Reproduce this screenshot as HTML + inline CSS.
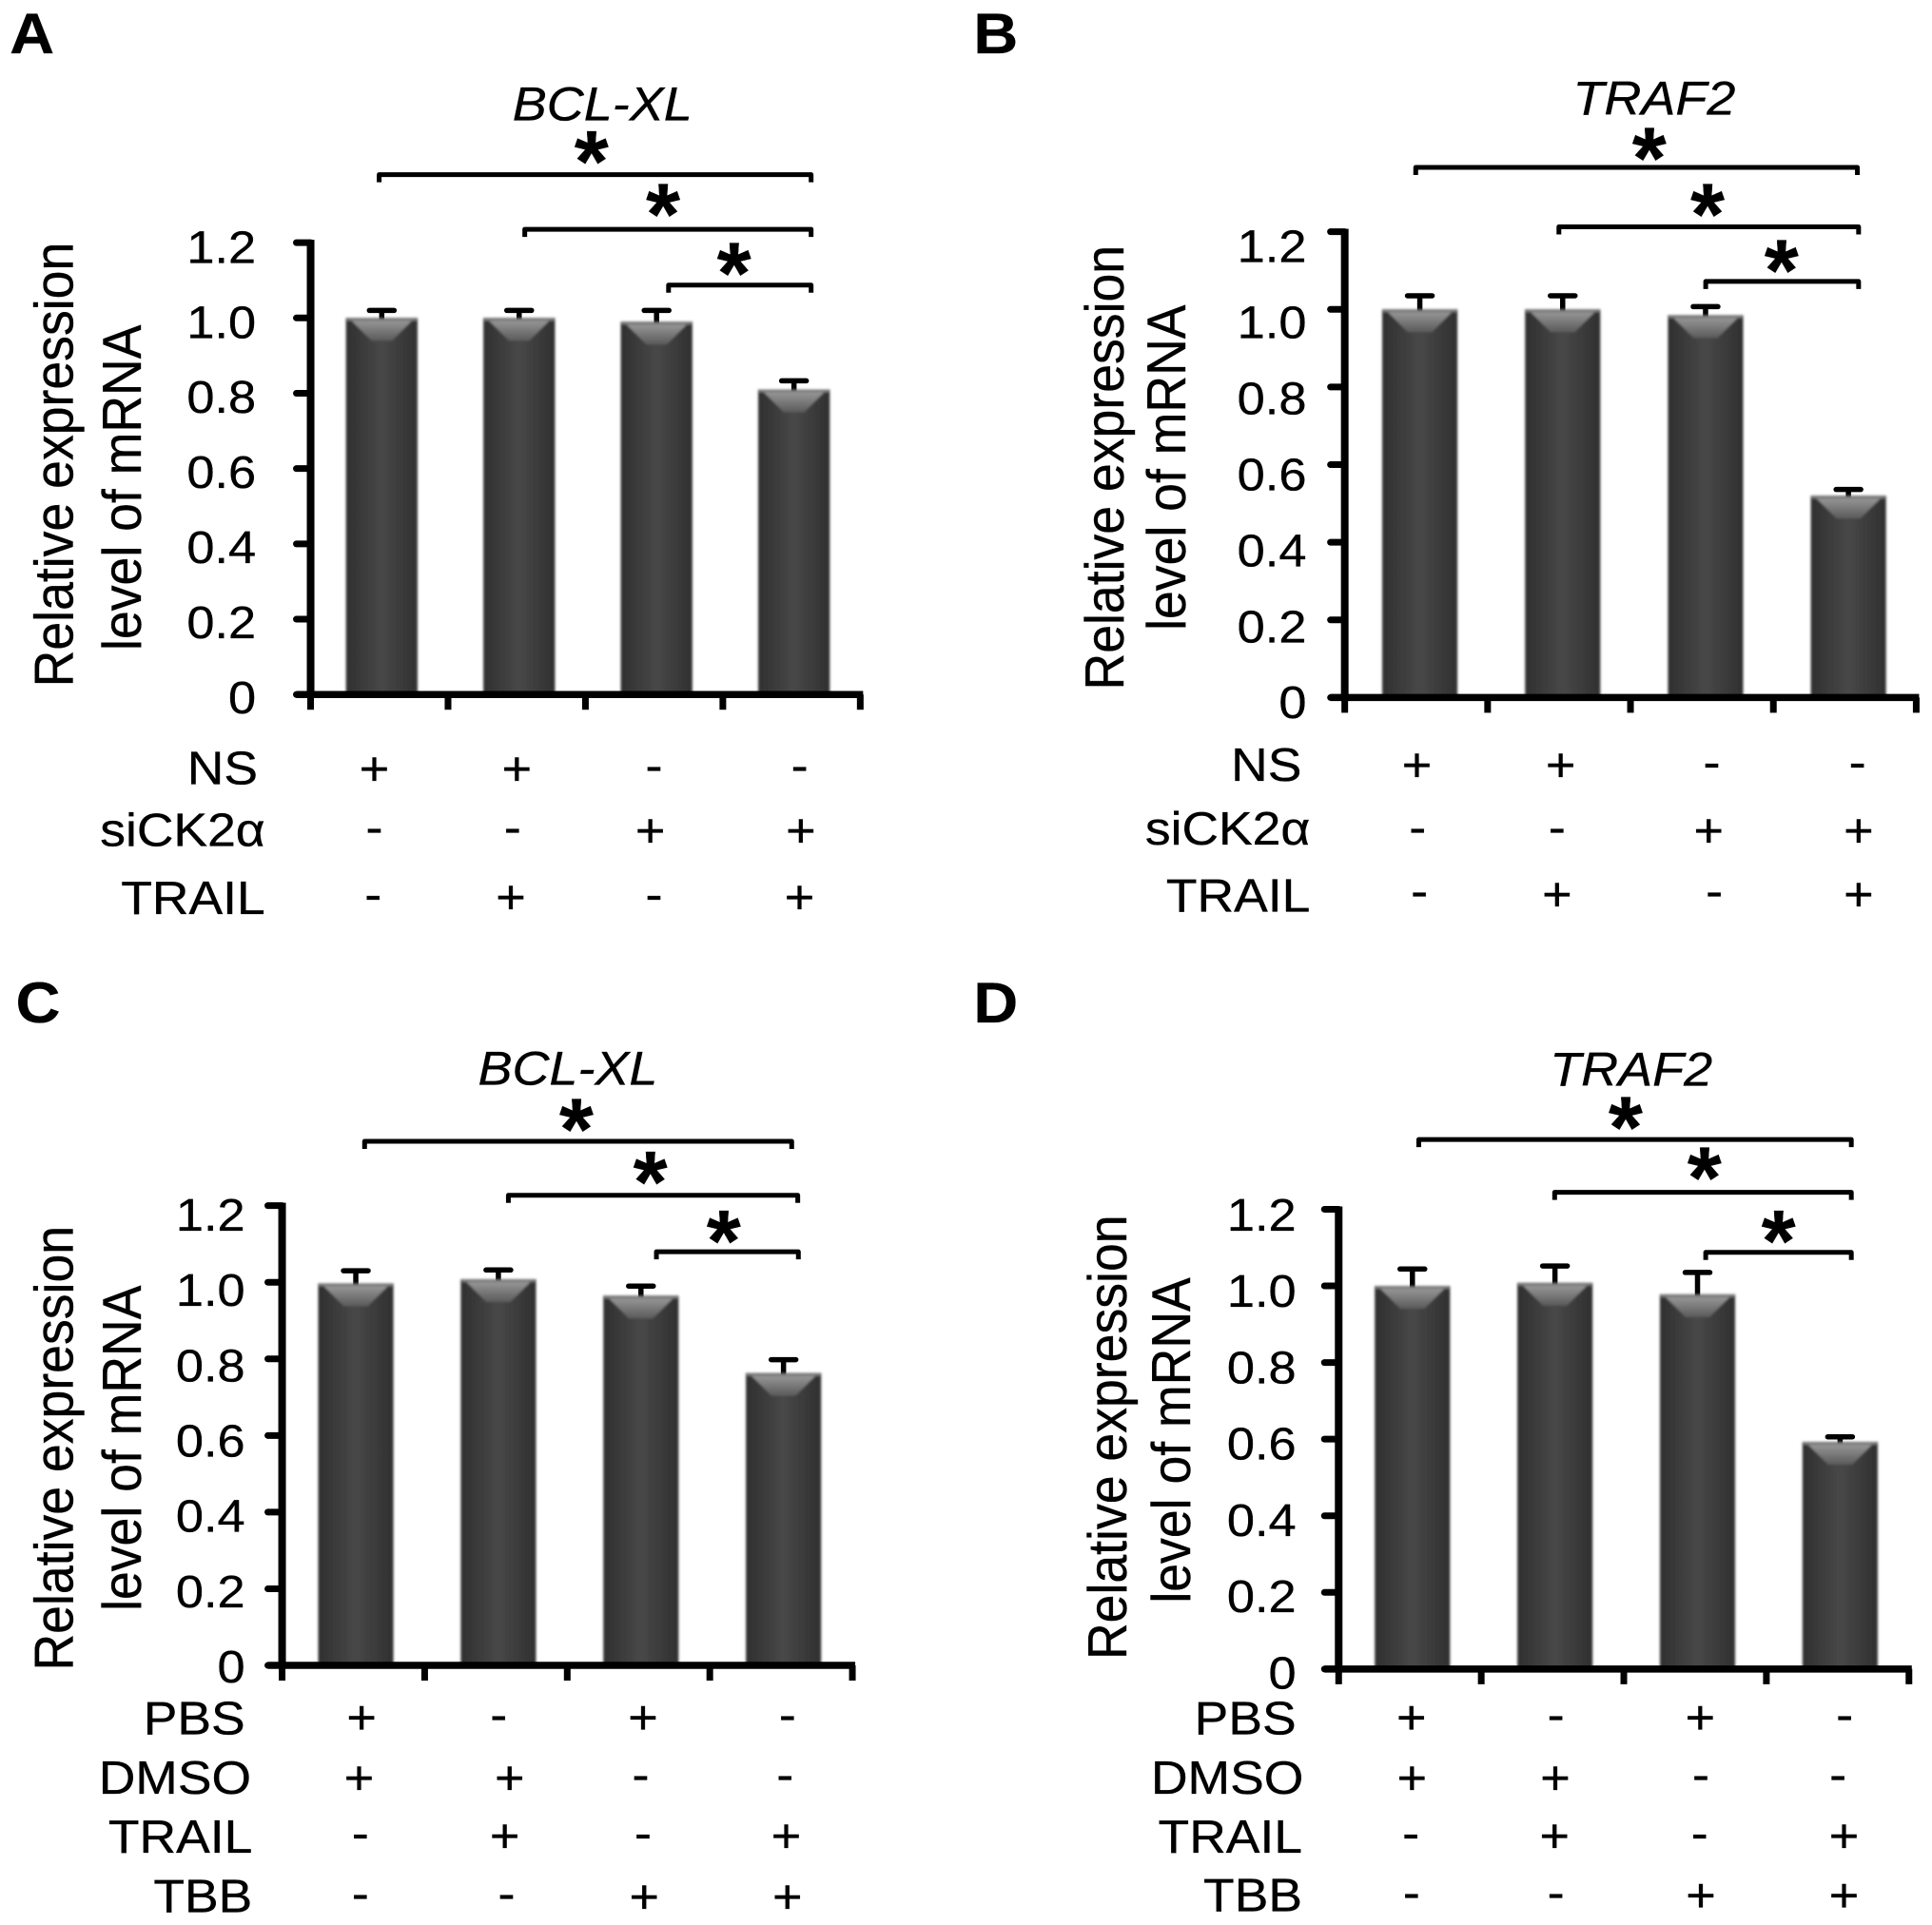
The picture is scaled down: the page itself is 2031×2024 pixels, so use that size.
<!DOCTYPE html>
<html lang="en">
<head>
<meta charset="utf-8">
<title>Relative mRNA expression of BCL-XL and TRAF2</title>
<style>
html,body{margin:0;padding:0;background:#fff;}
svg{display:block;}
text{font-family:"Liberation Sans",Arial,sans-serif;fill:#000;stroke:#000;stroke-width:0.35;}
</style>
</head>
<body>
<svg id="figure" xmlns="http://www.w3.org/2000/svg" width="2031" height="2024" viewBox="0 0 2031 2024">
  <defs>
    <linearGradient id="barBody" x1="0" x2="1" y1="0" y2="0">
      <stop offset="0" stop-color="#303030"/>
      <stop offset="0.13" stop-color="#363636"/>
      <stop offset="0.5" stop-color="#484848"/>
      <stop offset="0.87" stop-color="#363636"/>
      <stop offset="1" stop-color="#303030"/>
    </linearGradient>
    <linearGradient id="barShine" x1="0" x2="0" y1="0" y2="1">
      <stop offset="0" stop-color="#969696"/>
      <stop offset="1" stop-color="#5a5a5a"/>
    </linearGradient>
    <filter id="soft" x="-10%" y="-5%" width="120%" height="110%">
      <feGaussianBlur stdDeviation="1.3"/>
    </filter>
  </defs>
</svg>
<script>
/* ---------- chart data ---------- */
const tickValues = [0, 0.2, 0.4, 0.6, 0.8, 1.0, 1.2];
const tickLabels = ['0', '0.2', '0.4', '0.6', '0.8', '1.0', '1.2'];

const valuesA = [1.0, 1.0, 0.99, 0.81];
const errorsA = [0.02, 0.02, 0.03, 0.023];
const rowLabelsA = ['NS', 'siCK2α', 'TRAIL'];
const signsA = [['+', '+', '-', '-'], ['-', '-', '+', '+'], ['-', '+', '-', '+']];

const valuesB = [1.0, 1.0, 0.985, 0.52];
const errorsB = [0.035, 0.035, 0.022, 0.016];
const rowLabelsB = ['NS', 'siCK2α', 'TRAIL'];
const signsB = [['+', '+', '-', '-'], ['-', '-', '+', '+'], ['-', '+', '-', '+']];

const valuesC = [0.997, 1.008, 0.965, 0.763];
const errorsC = [0.033, 0.024, 0.025, 0.035];
const rowLabelsC = ['PBS', 'DMSO', 'TRAIL', 'TBB'];
const signsC = [['+', '-', '+', '-'], ['+', '+', '-', '-'], ['-', '+', '-', '+'], ['-', '-', '+', '+']];

const valuesD = [1.0, 1.008, 0.978, 0.593];
const errorsD = [0.044, 0.044, 0.057, 0.013];
const rowLabelsD = ['PBS', 'DMSO', 'TRAIL', 'TBB'];
const signsD = [['+', '-', '+', '-'], ['+', '+', '-', '-'], ['-', '+', '-', '+'], ['-', '-', '+', '+']];

/* ---------- layout (measured in crop units, 1.568 units = 1 px) ---------- */
const K = 1 / 1.568;
const STRETCH = 1.08;
const layouts = [
  {id:'a', letter:'A', gene:'BCL-XL', values:valuesA, errors:errorsA, rows:rowLabelsA, signs:signsA,
   ox:0, oy:0, x0:512, xEnd:1418, y0:1145, yTop:400, barW:118, shift:4,
   lab0:1148, labTop:405, labRight:422, letterX:16, letterY:88,
   titleX:993, titleY:198, t1:[120,766], t2:[232,804],
   brackets:[[625,1337,288],[865,1337,378],[1102,1337,470]],
   stars:[[975,248],[1093,335],[1210,432]],
   rowY:[1268,1370,1480], labelRight:[425,437,437], labelBase:[1293,1395,1507],
   signX:[[617,852,1078,1318],[617,845,1072,1320],[615,842,1078,1318]]},
  {id:'b', letter:'B', gene:'TRAF2', values:valuesB, errors:errorsB, rows:rowLabelsB, signs:signsB,
   ox:1031, oy:0, x0:600, xEnd:1542, y0:1150, yTop:382, barW:124, shift:6,
   lab0:1156, labTop:404, labRight:537, letterX:-12, letterY:88,
   titleX:1110, titleY:189, t1:[235,771], t2:[337,771],
   brackets:[[717,1445,276],[953,1447,374],[1195,1447,464]],
   stars:[[1102,243],[1198,335],[1320,428]],
   rowY:[1262,1370,1475], labelRight:[529,543,543], labelBase:[1287,1392,1503],
   signX:[[719,956,1205,1445],[720,950,1200,1447],[723,950,1209,1447]]},
  {id:'c', letter:'C', gene:'BCL-XL', values:valuesC, errors:errorsC, rows:rowLabelsC, signs:signsC,
   ox:0, oy:1024, x0:465, xEnd:1405, y0:1140, yTop:382, barW:124, shift:4,
   lab0:1140, labTop:395, labRight:404, letterX:26, letterY:80,
   titleX:936, titleY:183, t1:[120,782], t2:[232,782],
   brackets:[[601,1305,276],[838,1315,365],[1082,1316,458]],
   stars:[[950,238],[1072,325],[1193,422]],
   rowY:[1227,1326,1422,1522], labelRight:[404,414,416,416], labelBase:[1254,1352,1449,1547],
   signX:[[596,822,1060,1298],[592,840,1056,1294],[594,832,1060,1296],[594,835,1062,1298]]},
  {id:'d', letter:'D', gene:'TRAF2', values:valuesD, errors:errorsD, rows:rowLabelsD, signs:signsD,
   ox:1031, oy:1024, x0:590, xEnd:1530, y0:1146, yTop:388, barW:124, shift:4,
   lab0:1150, labTop:395, labRight:520, letterX:-12, letterY:80,
   titleX:1072, titleY:184, t1:[240,764], t2:[345,769],
   brackets:[[722,1435,273],[946,1435,360],[1195,1435,459]],
   stars:[[1063,235],[1193,318],[1315,422]],
   rowY:[1227,1326,1422,1520], labelRight:[520,532,530,530], labelBase:[1254,1352,1449,1545],
   signX:[[710,948,1186,1424],[711,947,1187,1413],[709,946,1185,1423],[710,948,1187,1423]]}
];

/* ---------- drawing ---------- */
const NS = 'http://www.w3.org/2000/svg';
const root = document.getElementById('figure');
const DOMAIN_MAX = tickValues[tickValues.length - 1];

function node(parent, tag, attrs) {
  const el = document.createElementNS(NS, tag);
  for (const key in attrs) el.setAttribute(key, attrs[key]);
  parent.appendChild(el);
  return el;
}

function label(parent, str, x, y, size, anchor, extra) {
  const el = node(parent, 'text', Object.assign({
    transform: 'translate(' + x + ',' + y + ') scale(' + STRETCH + ',1)',
    'font-size': size, 'text-anchor': anchor
  }, extra || {}));
  el.textContent = str;
  return el;
}

function drawPanel(p) {
  const X = u => p.ox + u * K;
  const Y = u => p.oy + u * K;
  const yScale = v => Y(p.y0) + (Y(p.yTop) - Y(p.y0)) * v / DOMAIN_MAX;
  const band = (X(p.xEnd) - X(p.x0)) / p.values.length;
  const xEdge = i => X(p.x0) + band * i;
  const xBar = i => xEdge(i) + band / 2 + p.shift * K;
  const barW = p.barW * K;

  const g = node(root, 'g', {});
  
  

  const letter = label(g, p.letter, X(p.letterX), Y(p.letterY), 60, 'start', {'font-weight': 'bold'});
  
  

  const title = label(g, p.gene, X(p.titleX), Y(p.titleY), 50, 'middle', {'font-style': 'italic'});
  
  

  [['Relative expression', p.t1, 'y-axis-title-line-1'], ['level of mRNA', p.t2, 'y-axis-title-line-2']].forEach(item => {
    const t = node(g, 'text', {
      transform: 'translate(' + X(item[1][0]) + ',' + Y(item[1][1]) + ') scale(' + STRETCH + ',1) rotate(-90)',
      'font-size': 53.6, 'text-anchor': 'middle'
    });
    t.textContent = item[0];
    
    
  });

  /* error bars sit behind the bars */
  p.values.forEach((v, i) => {
    const cx = xBar(i);
    const err = node(g, 'path', {
      d: 'M' + cx + ' ' + (yScale(v) + 4) + 'V' + yScale(v + p.errors[i]) +
         'M' + (cx - 13) + ' ' + yScale(v + p.errors[i]) + 'H' + (cx + 13),
      fill: 'none', stroke: '#000', 'stroke-width': 5.5, 'stroke-linecap': 'round'
    });
    
    
  });

  /* bars */
  p.values.forEach((v, i) => {
    const cx = xBar(i), top = yScale(v), bottom = yScale(0);
    const bar = node(g, 'g', {filter: 'url(#soft)'});
    
    
    node(bar, 'rect', {x: cx - barW / 2, y: top, width: barW, height: bottom - top, fill: 'url(#barBody)'});
    node(bar, 'rect', {x: cx - barW / 2 + 1, y: top, width: barW - 2, height: 3, fill: '#7a7a7a'});
    node(bar, 'polygon', {
      points: [
        (cx - barW / 2 + 6) + ',' + (top + 3),
        (cx + barW / 2 - 6) + ',' + (top + 3),
        (cx + barW / 2 - 27) + ',' + (top + 24),
        (cx - barW / 2 + 27) + ',' + (top + 24)
      ].join(' '),
      fill: 'url(#barShine)'
    });
  });

  /* axes */
  const yAxis = node(g, 'line', {x1: X(p.x0), x2: X(p.x0), y1: yScale(DOMAIN_MAX) - 3, y2: yScale(0) + 3, stroke: '#000', 'stroke-width': 8});
  
  
  const xAxis = node(g, 'line', {x1: X(p.x0) - 15, x2: X(p.xEnd) + 3, y1: yScale(0), y2: yScale(0), stroke: '#000', 'stroke-width': 7.5});
  
  

  tickValues.forEach((v, i) => {
    const tick = node(g, 'line', {x1: X(p.x0) - 15, x2: X(p.x0), y1: yScale(v), y2: yScale(v), stroke: '#000', 'stroke-width': 7, 'stroke-linecap': 'round'});
    
    
    const labY = Y(p.lab0) + (Y(p.labTop) - Y(p.lab0)) * v / DOMAIN_MAX + 18;
    const tl = label(g, tickLabels[i], X(p.labRight), labY, 48.5, 'end');
    
    
  });

  for (let i = 0; i <= p.values.length; i++) {
    const tick = node(g, 'line', {x1: xEdge(i), x2: xEdge(i), y1: yScale(0), y2: yScale(0) + 16, stroke: '#000', 'stroke-width': 7});
    
    
  }

  /* significance brackets */
  p.brackets.forEach((b, i) => {
    const br = node(g, 'path', {
      d: 'M' + X(b[0]) + ' ' + (Y(b[2]) + 8) + 'V' + Y(b[2]) + 'H' + X(b[1]) + 'V' + (Y(b[2]) + 8),
      fill: 'none', stroke: '#000', 'stroke-width': 5, 'stroke-linejoin': 'round'
    });
    
    
    const size = 92;
    const star = node(g, 'text', {
      x: X(p.stars[i][0]), y: Y(p.stars[i][1]) + 0.47 * size,
      'font-size': size, 'font-weight': 'bold', 'text-anchor': 'middle'
    });
    star.textContent = '*';
    
    
  });

  /* treatment table */
  p.rows.forEach((name, r) => {
    const rowLabel = label(g, name, X(p.labelRight[r]), Y(p.labelBase[r]), 49.5, 'end');
    
    
    p.signs[r].forEach((s, c) => {
      const base = Y(p.rowY[r]) + (s === '+' ? 16.7 : 13.5);
      const sign = label(g, s, X(p.signX[r][c]), base, 50, 'middle');
      
      
    });
  });
}

layouts.forEach(drawPanel);
</script>
</body>
</html>
